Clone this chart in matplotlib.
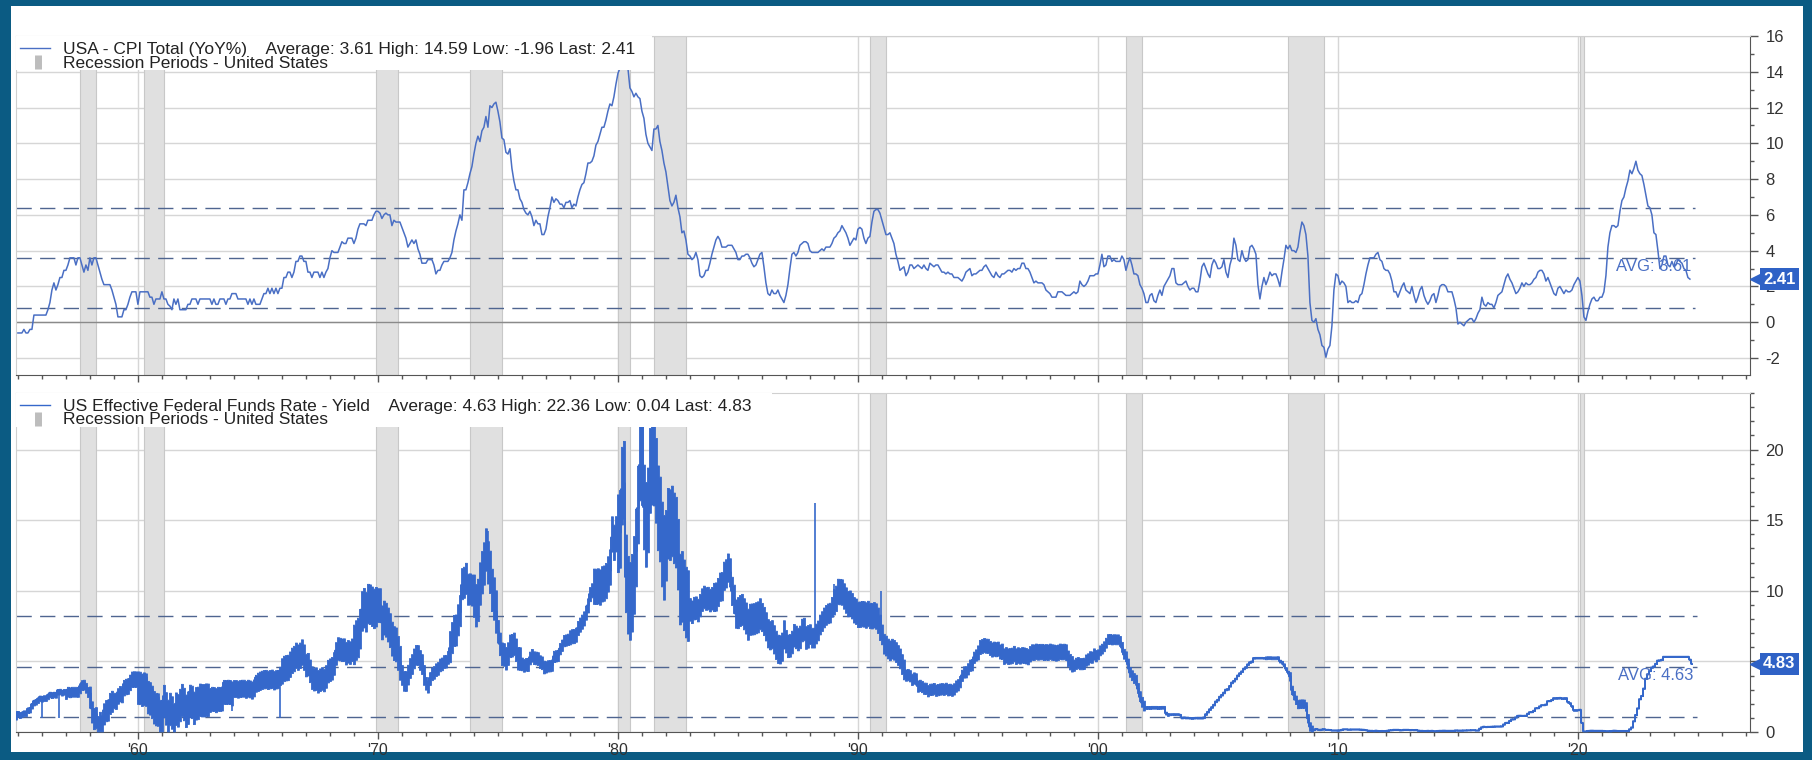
import numpy as np
import matplotlib.pyplot as plt
import matplotlib.transforms as mtransforms
from matplotlib.patches import Rectangle
from matplotlib.ticker import MultipleLocator, FixedLocator

plt.rcParams['font.family'] = ['Liberation Sans', 'DejaVu Sans']
plt.rcParams['axes.unicode_minus'] = False

# USA CPI total, YoY %, monthly from Jan 1955
cpi_start = 1955
cpi_yoy = [
    -0.6, -0.6, -0.6, -0.4, -0.6, -0.6, -0.4, -0.4, 0.4, 0.4, 0.4, 0.4,   # 1955
    0.4, 0.4, 0.4, 0.7, 1.1, 1.8, 2.2, 1.8, 2.1, 2.5, 2.5, 2.9,          # 1956
    2.9, 3.2, 3.6, 3.6, 3.6, 3.2, 3.6, 3.6, 3.2, 2.8, 3.2, 2.9,          # 1957
    3.6, 3.2, 3.6, 3.6, 3.2, 2.8, 2.4, 2.1, 2.1, 2.1, 2.1, 1.8,          # 1958
    1.4, 1.0, 0.3, 0.3, 0.3, 0.7, 0.7, 1.0, 1.4, 1.7, 1.7, 1.7,          # 1959
    1.0, 1.7, 1.7, 1.7, 1.7, 1.7, 1.4, 1.4, 1.0, 1.3, 1.3, 1.3,          # 1960
    1.7, 1.3, 1.3, 1.0, 0.9, 0.7, 1.3, 1.0, 1.3, 0.7, 0.7, 0.7,          # 1961
    0.7, 1.0, 1.0, 1.3, 1.3, 1.3, 1.0, 1.3, 1.3, 1.3, 1.3, 1.3,          # 1962
    1.3, 1.0, 1.3, 1.0, 1.0, 1.3, 1.3, 1.3, 1.0, 1.3, 1.3, 1.6,          # 1963
    1.6, 1.6, 1.3, 1.3, 1.3, 1.3, 1.3, 1.0, 1.3, 1.0, 1.3, 1.0,          # 1964
    1.0, 1.0, 1.3, 1.6, 1.6, 1.9, 1.6, 1.9, 1.6, 1.9, 1.6, 1.9,          # 1965
    1.9, 2.5, 2.5, 2.8, 2.8, 2.5, 2.8, 3.4, 3.4, 3.7, 3.7, 3.4,          # 1966
    3.4, 2.8, 2.8, 2.5, 2.8, 2.8, 2.8, 2.5, 2.8, 2.5, 2.8, 3.0,          # 1967
    3.6, 4.0, 3.9, 3.9, 3.9, 4.2, 4.5, 4.4, 4.4, 4.7, 4.7, 4.7,          # 1968
    4.4, 4.7, 5.2, 5.5, 5.5, 5.5, 5.4, 5.7, 5.7, 5.7, 6.0, 6.2,          # 1969
    6.2, 6.1, 5.8, 6.0, 6.1, 6.0, 6.0, 5.4, 5.7, 5.6, 5.6, 5.6,          # 1970
    5.3, 5.0, 4.7, 4.2, 4.4, 4.6, 4.4, 4.6, 4.1, 3.8, 3.3, 3.3,          # 1971
    3.3, 3.5, 3.5, 3.5, 3.2, 2.7, 2.9, 2.9, 3.2, 3.4, 3.4, 3.4,          # 1972
    3.6, 3.9, 4.6, 5.1, 5.5, 6.0, 5.7, 7.4, 7.4, 7.8, 8.3, 8.7,          # 1973
    9.4, 10.0, 10.4, 10.1, 10.7, 10.9, 11.5, 10.9, 12.1, 12.0, 12.2, 12.3,  # 1974
    11.8, 11.2, 10.3, 10.2, 9.5, 9.4, 9.7, 8.6, 7.9, 7.4, 7.4, 6.9,      # 1975
    6.7, 6.3, 6.1, 6.0, 6.2, 5.9, 5.4, 5.7, 5.5, 5.5, 4.9, 4.9,          # 1976
    5.2, 5.9, 6.4, 7.0, 6.7, 6.9, 6.8, 6.6, 6.6, 6.4, 6.7, 6.7,          # 1977
    6.8, 6.4, 6.6, 6.5, 7.0, 7.4, 7.7, 7.8, 8.3, 8.9, 8.9, 9.0,          # 1978
    9.3, 9.9, 10.1, 10.5, 10.9, 10.9, 11.3, 11.8, 12.2, 12.1, 12.6, 13.3,  # 1979
    13.9, 14.2, 14.59, 14.5, 14.3, 14.2, 13.1, 12.9, 12.6, 12.8, 12.6, 12.5,  # 1980
    11.8, 11.4, 10.5, 10.0, 9.8, 9.6, 10.8, 10.8, 11.0, 10.1, 9.6, 8.9,  # 1981
    8.4, 7.6, 6.8, 6.5, 6.7, 7.1, 6.4, 5.9, 5.0, 5.1, 4.6, 3.8,          # 1982
    3.7, 3.5, 3.6, 3.9, 3.5, 2.6, 2.5, 2.6, 2.9, 2.9, 3.3, 3.8,          # 1983
    4.2, 4.6, 4.8, 4.6, 4.2, 4.2, 4.2, 4.3, 4.3, 4.3, 4.1, 3.9,          # 1984
    3.5, 3.5, 3.7, 3.7, 3.8, 3.8, 3.6, 3.3, 3.1, 3.2, 3.5, 3.8,          # 1985
    3.9, 3.1, 2.2, 1.6, 1.5, 1.8, 1.6, 1.6, 1.8, 1.5, 1.3, 1.1,          # 1986
    1.5, 2.1, 3.0, 3.8, 3.9, 3.7, 3.9, 4.3, 4.4, 4.5, 4.5, 4.4,          # 1987
    4.0, 3.9, 3.9, 3.9, 3.9, 4.0, 4.1, 4.0, 4.2, 4.2, 4.2, 4.4,          # 1988
    4.7, 4.8, 5.0, 5.1, 5.4, 5.2, 5.0, 4.7, 4.3, 4.5, 4.7, 4.6,          # 1989
    5.2, 5.3, 5.2, 4.7, 4.4, 4.7, 4.8, 5.6, 6.2, 6.3, 6.3, 6.1,          # 1990
    5.7, 5.3, 4.9, 4.9, 5.0, 4.7, 4.4, 3.8, 3.4, 2.9, 3.0, 3.1,          # 1991
    2.6, 2.8, 3.2, 3.2, 3.0, 3.1, 3.2, 3.1, 3.0, 3.2, 3.0, 2.9,          # 1992
    3.3, 3.2, 3.1, 3.2, 3.2, 3.0, 2.8, 2.8, 2.7, 2.8, 2.7, 2.7,          # 1993
    2.5, 2.5, 2.5, 2.4, 2.3, 2.5, 2.8, 2.9, 3.0, 2.6, 2.7, 2.7,          # 1994
    2.8, 2.9, 2.9, 3.1, 3.2, 3.0, 2.8, 2.6, 2.5, 2.8, 2.6, 2.5,          # 1995
    2.7, 2.7, 2.8, 2.9, 2.9, 2.8, 3.0, 2.9, 3.0, 3.0, 3.3, 3.3,          # 1996
    3.0, 3.0, 2.8, 2.5, 2.2, 2.3, 2.2, 2.2, 2.2, 2.1, 1.8, 1.7,          # 1997
    1.6, 1.4, 1.4, 1.4, 1.7, 1.7, 1.7, 1.6, 1.5, 1.5, 1.5, 1.6,          # 1998
    1.7, 1.6, 1.7, 2.3, 2.1, 2.0, 2.1, 2.3, 2.6, 2.6, 2.6, 2.7,          # 1999
    2.7, 3.2, 3.8, 3.1, 3.2, 3.7, 3.7, 3.4, 3.5, 3.4, 3.4, 3.4,          # 2000
    3.7, 3.5, 2.9, 3.3, 3.6, 3.2, 2.7, 2.7, 2.6, 2.1, 1.9, 1.6,          # 2001
    1.1, 1.1, 1.5, 1.6, 1.2, 1.1, 1.5, 1.8, 1.5, 2.0, 2.2, 2.4,          # 2002
    2.6, 3.0, 3.0, 2.2, 2.1, 2.1, 2.1, 2.2, 2.3, 2.0, 1.8, 1.9,          # 2003
    1.9, 1.7, 1.7, 2.3, 3.1, 3.3, 3.0, 2.7, 2.5, 3.2, 3.5, 3.3,          # 2004
    3.0, 3.0, 3.1, 3.5, 2.8, 2.5, 3.2, 3.6, 4.7, 4.3, 3.5, 3.4,          # 2005
    4.0, 3.6, 3.4, 3.5, 4.2, 4.3, 4.1, 3.8, 2.1, 1.3, 2.0, 2.5,          # 2006
    2.1, 2.4, 2.8, 2.6, 2.7, 2.7, 2.4, 2.0, 2.8, 3.5, 4.3, 4.1,          # 2007
    4.3, 4.0, 4.0, 3.9, 4.2, 5.0, 5.6, 5.4, 4.9, 3.7, 1.1, 0.1,          # 2008
    0.0, 0.2, -0.4, -0.7, -1.3, -1.4, -1.96, -1.5, -1.3, -0.2, 1.8, 2.7,  # 2009
    2.6, 2.1, 2.3, 2.2, 2.0, 1.1, 1.2, 1.1, 1.1, 1.2, 1.1, 1.5,          # 2010
    1.6, 2.1, 2.7, 3.2, 3.6, 3.6, 3.6, 3.8, 3.9, 3.5, 3.4, 3.0,          # 2011
    2.9, 2.9, 2.7, 2.3, 1.7, 1.7, 1.4, 1.7, 2.0, 2.2, 1.8, 1.7,          # 2012
    1.6, 2.0, 1.5, 1.1, 1.4, 1.8, 2.0, 1.5, 1.2, 1.0, 1.2, 1.5,          # 2013
    1.6, 1.1, 1.5, 2.0, 2.1, 2.1, 2.0, 1.7, 1.7, 1.7, 1.3, 0.8,          # 2014
    -0.1, 0.0, -0.1, -0.2, 0.0, 0.1, 0.2, 0.2, 0.0, 0.2, 0.5, 0.7,       # 2015
    1.4, 1.0, 0.9, 1.1, 1.0, 1.0, 0.8, 1.1, 1.5, 1.6, 1.7, 2.1,          # 2016
    2.5, 2.7, 2.4, 2.2, 1.9, 1.6, 1.7, 1.9, 2.2, 2.0, 2.2, 2.1,          # 2017
    2.1, 2.2, 2.4, 2.5, 2.8, 2.9, 2.9, 2.7, 2.3, 2.5, 2.2, 1.9,          # 2018
    1.6, 1.5, 1.9, 2.0, 1.8, 1.6, 1.8, 1.7, 1.7, 1.8, 2.1, 2.3,          # 2019
    2.5, 2.3, 1.5, 0.3, 0.1, 0.6, 1.0, 1.3, 1.4, 1.2, 1.2, 1.4,          # 2020
    1.4, 1.7, 2.6, 4.2, 5.0, 5.4, 5.4, 5.3, 5.4, 6.2, 6.8, 7.0,          # 2021
    7.5, 7.9, 8.5, 8.3, 8.6, 9.0, 8.5, 8.3, 8.2, 7.7, 7.1, 6.5,          # 2022
    6.4, 6.0, 5.0, 4.9, 4.0, 3.0, 3.2, 3.7, 3.7, 3.2, 3.1, 3.4,          # 2023
    3.1, 3.2, 3.5, 3.4, 3.3, 3.0, 2.9, 2.5, 2.41,                        # 2024
]

# US effective federal funds rate, monthly from Jul 1954
ff_start = 1954.5
fed_funds = [
    0.80, 1.22, 1.07, 0.85, 0.83, 1.28,                                   # 1954 H2
    1.39, 1.29, 1.35, 1.43, 1.43, 1.64, 1.68, 1.96, 2.18, 2.24, 2.35, 2.48,  # 1955
    2.45, 2.50, 2.50, 2.62, 2.75, 2.71, 2.75, 2.73, 2.95, 2.96, 2.88, 2.94,  # 1956
    2.84, 3.00, 2.96, 3.00, 3.00, 3.00, 2.99, 3.24, 3.47, 3.50, 3.28, 2.98,  # 1957
    2.72, 1.67, 1.20, 1.26, 0.63, 0.93, 0.68, 1.53, 1.76, 1.80, 2.27, 2.42,  # 1958
    2.48, 2.43, 2.80, 2.96, 2.90, 3.39, 3.47, 3.50, 3.76, 3.98, 4.00, 3.99,  # 1959
    3.99, 3.97, 3.84, 3.92, 3.85, 3.32, 3.23, 2.98, 2.60, 2.47, 2.44, 1.98,  # 1960
    1.45, 2.54, 2.02, 1.49, 1.98, 1.73, 1.17, 2.00, 1.88, 2.26, 2.61, 2.33,  # 1961
    2.15, 2.37, 2.85, 2.78, 2.36, 2.68, 2.71, 2.93, 2.90, 2.90, 2.94, 2.93,  # 1962
    2.92, 3.00, 2.98, 2.90, 3.00, 2.99, 3.02, 3.49, 3.48, 3.50, 3.48, 3.38,  # 1963
    3.48, 3.48, 3.43, 3.47, 3.50, 3.50, 3.42, 3.50, 3.45, 3.36, 3.52, 3.85,  # 1964
    3.90, 3.98, 4.04, 4.09, 4.10, 4.04, 4.09, 4.12, 4.01, 4.08, 4.10, 4.32,  # 1965
    4.42, 4.60, 4.65, 4.67, 4.90, 5.17, 5.30, 5.53, 5.40, 5.53, 5.76, 5.40,  # 1966
    4.94, 5.00, 4.53, 4.05, 3.94, 3.98, 3.79, 3.90, 3.99, 3.88, 4.13, 4.51,  # 1967
    4.61, 4.71, 5.05, 5.76, 6.11, 6.07, 6.02, 6.03, 5.78, 5.91, 5.82, 6.02,  # 1968
    6.30, 6.61, 6.79, 7.41, 8.67, 8.90, 8.61, 9.19, 9.15, 9.00, 8.85, 8.97,  # 1969
    8.98, 8.98, 7.76, 8.10, 7.95, 7.61, 7.21, 6.61, 6.29, 6.20, 5.60, 4.90,  # 1970
    4.14, 3.72, 3.71, 4.16, 4.63, 4.91, 5.31, 5.56, 5.55, 5.20, 4.91, 4.14,  # 1971
    3.50, 3.29, 3.83, 4.17, 4.27, 4.46, 4.55, 4.80, 4.87, 5.04, 5.06, 5.33,  # 1972
    5.94, 6.58, 7.09, 7.12, 7.84, 8.49, 10.40, 10.50, 10.78, 10.01, 10.03, 9.95,  # 1973
    9.65, 8.97, 9.35, 10.51, 11.31, 11.93, 12.92, 12.01, 11.34, 10.06, 9.45, 8.53,  # 1974
    7.13, 6.24, 5.54, 5.49, 5.22, 5.55, 6.10, 6.14, 6.24, 5.82, 5.22, 5.20,  # 1975
    4.87, 4.77, 4.84, 4.82, 5.29, 5.48, 5.31, 5.29, 5.25, 5.03, 4.95, 4.65,  # 1976
    4.61, 4.68, 4.69, 4.73, 5.35, 5.39, 5.42, 5.90, 6.14, 6.47, 6.51, 6.56,  # 1977
    6.70, 6.78, 6.79, 6.89, 7.36, 7.60, 7.81, 8.04, 8.45, 8.96, 9.76, 10.03,  # 1978
    10.07, 10.06, 10.09, 10.01, 10.24, 10.29, 10.47, 10.94, 11.43, 13.77, 13.18, 13.78,  # 1979
    13.82, 14.13, 17.19, 17.61, 10.98, 9.47, 9.03, 9.61, 10.87, 12.81, 15.85, 18.90,  # 1980
    19.08, 15.93, 14.70, 15.72, 18.52, 19.10, 19.04, 17.82, 15.87, 15.08, 13.31, 12.37,  # 1981
    13.22, 14.78, 14.68, 14.94, 14.45, 14.15, 12.59, 10.12, 10.31, 9.71, 9.20, 8.95,  # 1982
    8.68, 8.51, 8.77, 8.80, 8.63, 8.98, 9.37, 9.56, 9.45, 9.48, 9.34, 9.47,  # 1983
    9.56, 9.59, 9.91, 10.29, 10.32, 11.06, 11.23, 11.64, 11.30, 9.99, 9.43, 8.38,  # 1984
    8.35, 8.50, 8.58, 8.27, 7.97, 7.53, 7.88, 7.90, 7.92, 7.99, 8.05, 8.27,  # 1985
    8.14, 7.86, 7.48, 6.99, 6.85, 6.92, 6.56, 6.17, 5.89, 5.85, 6.04, 6.91,  # 1986
    6.43, 6.10, 6.13, 6.37, 6.85, 6.73, 6.58, 6.73, 7.22, 7.29, 6.69, 6.77,  # 1987
    6.83, 6.58, 6.58, 6.87, 7.09, 7.51, 7.75, 8.01, 8.19, 8.30, 8.35, 8.76,  # 1988
    9.12, 9.36, 9.85, 9.84, 9.81, 9.53, 9.24, 8.99, 9.02, 8.84, 8.55, 8.45,  # 1989
    8.23, 8.24, 8.28, 8.26, 8.18, 8.29, 8.15, 8.13, 8.20, 8.11, 7.81, 7.31,  # 1990
    6.91, 6.25, 6.12, 5.91, 5.78, 5.90, 5.82, 5.66, 5.45, 5.21, 4.81, 4.43,  # 1991
    4.03, 4.06, 3.98, 3.73, 3.82, 3.76, 3.25, 3.30, 3.22, 3.10, 3.09, 2.92,  # 1992
    3.02, 3.03, 3.07, 2.96, 3.00, 3.04, 3.06, 3.03, 3.09, 2.99, 3.02, 2.96,  # 1993
    3.05, 3.25, 3.34, 3.56, 4.01, 4.25, 4.26, 4.47, 4.73, 4.76, 5.29, 5.45,  # 1994
    5.53, 5.92, 5.98, 6.05, 6.01, 6.00, 5.85, 5.74, 5.80, 5.76, 5.80, 5.60,  # 1995
    5.56, 5.22, 5.31, 5.22, 5.24, 5.27, 5.40, 5.22, 5.30, 5.24, 5.31, 5.29,  # 1996
    5.25, 5.19, 5.39, 5.51, 5.50, 5.56, 5.52, 5.54, 5.54, 5.50, 5.52, 5.50,  # 1997
    5.56, 5.51, 5.49, 5.45, 5.49, 5.56, 5.54, 5.55, 5.51, 5.07, 4.83, 4.68,  # 1998
    4.63, 4.76, 4.81, 4.74, 4.74, 4.76, 4.99, 5.07, 5.22, 5.20, 5.42, 5.30,  # 1999
    5.45, 5.73, 5.85, 6.02, 6.27, 6.53, 6.54, 6.50, 6.52, 6.51, 6.51, 6.40,  # 2000
    5.98, 5.49, 5.31, 4.80, 4.21, 3.97, 3.77, 3.65, 3.07, 2.49, 2.09, 1.82,  # 2001
    1.73, 1.74, 1.73, 1.75, 1.75, 1.75, 1.73, 1.74, 1.75, 1.75, 1.34, 1.24,  # 2002
    1.24, 1.26, 1.25, 1.26, 1.26, 1.22, 1.01, 1.03, 1.01, 1.01, 1.00, 0.98,  # 2003
    1.00, 1.01, 1.00, 1.00, 1.00, 1.03, 1.26, 1.43, 1.61, 1.76, 1.93, 2.16,  # 2004
    2.28, 2.50, 2.63, 2.79, 3.00, 3.04, 3.26, 3.50, 3.62, 3.78, 4.00, 4.16,  # 2005
    4.29, 4.49, 4.59, 4.79, 4.94, 4.99, 5.24, 5.25, 5.25, 5.25, 5.25, 5.24,  # 2006
    5.25, 5.26, 5.26, 5.25, 5.25, 5.25, 5.26, 5.02, 4.94, 4.76, 4.49, 4.24,  # 2007
    3.94, 2.98, 2.61, 2.28, 1.98, 2.00, 2.01, 2.00, 1.81, 0.97, 0.39, 0.16,  # 2008
    0.15, 0.22, 0.18, 0.15, 0.18, 0.21, 0.16, 0.16, 0.15, 0.12, 0.12, 0.12,  # 2009
    0.11, 0.13, 0.16, 0.20, 0.20, 0.18, 0.18, 0.19, 0.19, 0.19, 0.19, 0.18,  # 2010
    0.17, 0.16, 0.14, 0.10, 0.09, 0.09, 0.07, 0.10, 0.08, 0.07, 0.08, 0.07,  # 2011
    0.08, 0.10, 0.13, 0.14, 0.16, 0.16, 0.16, 0.13, 0.14, 0.16, 0.16, 0.16,  # 2012
    0.14, 0.15, 0.14, 0.15, 0.11, 0.09, 0.09, 0.08, 0.08, 0.09, 0.08, 0.09,  # 2013
    0.07, 0.07, 0.08, 0.09, 0.09, 0.10, 0.09, 0.09, 0.09, 0.09, 0.09, 0.12,  # 2014
    0.11, 0.11, 0.11, 0.12, 0.12, 0.13, 0.13, 0.14, 0.14, 0.12, 0.12, 0.24,  # 2015
    0.34, 0.38, 0.36, 0.37, 0.37, 0.38, 0.39, 0.40, 0.40, 0.40, 0.41, 0.54,  # 2016
    0.65, 0.66, 0.79, 0.90, 0.91, 1.04, 1.15, 1.16, 1.15, 1.15, 1.16, 1.30,  # 2017
    1.41, 1.42, 1.51, 1.69, 1.70, 1.82, 1.91, 1.91, 1.95, 2.19, 2.20, 2.27,  # 2018
    2.40, 2.40, 2.41, 2.42, 2.39, 2.38, 2.40, 2.13, 2.04, 1.83, 1.55, 1.55,  # 2019
    1.55, 1.58, 0.65, 0.05, 0.05, 0.08, 0.09, 0.10, 0.09, 0.09, 0.09, 0.09,  # 2020
    0.09, 0.08, 0.07, 0.07, 0.06, 0.08, 0.10, 0.09, 0.08, 0.08, 0.08, 0.08,  # 2021
    0.08, 0.08, 0.20, 0.33, 0.77, 1.21, 1.68, 2.33, 2.56, 3.08, 3.78, 4.10,  # 2022
    4.33, 4.57, 4.65, 4.83, 5.06, 5.08, 5.12, 5.33, 5.33, 5.33, 5.33, 5.33,  # 2023
    5.33, 5.33, 5.33, 5.33, 5.33, 5.33, 5.33, 5.33, 5.13, 4.83,              # 2024
]

# daily range around the monthly level, per calendar year 1954..2024 (below, above)
ff_years = list(range(1954, 2025))
ff_range_lo = [
    0.4, 0.3, 0.3, 0.5, 1.0, 0.8, 2.0, 1.5, 1.8, 1.5,   # 1954-63
    1.0, 1.0, 1.0, 1.0, 1.0, 1.5, 1.2, 0.8, 0.5, 1.0,   # 1964-73
    1.5, 0.8, 0.5, 0.4, 0.5, 1.0, 2.5, 3.0, 2.5, 0.8,   # 1974-83
    1.0, 1.0, 1.0, 0.8, 0.6, 0.8, 0.8, 0.7, 0.4, 0.4,   # 1984-93
    0.4, 0.4, 0.4, 0.4, 0.4, 0.3, 0.3, 0.3, 0.1, 0.05,  # 1994-03
    0.05, 0.05, 0.05, 0.1, 0.3, 0.02, 0.02, 0.02, 0.02, 0.02,  # 2004-13
    0.02, 0.02, 0.02, 0.02, 0.02, 0.05, 0.02, 0.02, 0.02, 0.02, 0.02,  # 2014-24
]
ff_range_hi = [
    0.2, 0.1, 0.1, 0.2, 0.5, 0.3, 0.3, 0.8, 0.5, 0.2,   # 1954-63
    0.2, 0.3, 0.8, 0.6, 0.6, 1.3, 1.2, 0.6, 0.4, 1.2,   # 1964-73
    1.5, 0.8, 0.4, 0.4, 0.5, 1.5, 3.0, 3.0, 2.5, 0.8,   # 1974-83
    1.0, 1.2, 1.0, 0.8, 0.8, 1.0, 1.0, 0.7, 0.4, 0.4,   # 1984-93
    0.4, 0.6, 0.7, 0.7, 0.7, 0.5, 0.4, 0.4, 0.1, 0.05,  # 1994-03
    0.05, 0.05, 0.05, 0.1, 0.3, 0.02, 0.02, 0.02, 0.02, 0.02,  # 2004-13
    0.02, 0.02, 0.02, 0.02, 0.02, 0.05, 0.02, 0.02, 0.02, 0.02, 0.02,  # 2014-24
]
# single-day spikes (year, rate)
ff_spike_dates = [1956.0, 1956.7, 1963.9, 1965.9, 1974.6, 1980.25, 1980.95,
                  1981.05, 1981.5, 1984.6, 1988.2, 1989.0, 1990.95]
ff_spike_vals = [1.0, 1.0, 1.5, 1.0, 14.2, 20.0, 21.0, 22.0, 22.36, 12.3, 16.2, 10.5, 10.0]

# US recessions (start, end)
rec_start = [1957.58, 1960.25, 1969.92, 1973.83, 1980.0, 1981.5, 1990.5, 2001.17, 2007.92, 2020.08]
rec_end = [1958.25, 1961.08, 1970.83, 1975.17, 1980.5, 1982.83, 1991.17, 2001.83, 2009.42, 2020.25]

cpi_bands = [0.81, 3.61, 6.41]
ff_bands = [1.03, 4.63, 8.23]
cpi_label = 'USA - CPI Total (YoY%)    Average: 3.61 High: 14.59 Low: -1.96 Last: 2.41'
ff_label = 'US Effective Federal Funds Rate - Yield    Average: 4.63 High: 22.36 Low: 0.04 Last: 4.83'
rec_label = 'Recession Periods - United States'
decades = [1960, 1970, 1980, 1990, 2000, 2010, 2020]
decade_labels = ["'60", "'70", "'80", "'90", "'00", "'10", "'20"]

W, H = 1812, 760
AX_W, AX_H = 1734, 339
fig = plt.figure(figsize=(W / 100, H / 100), dpi=100, facecolor='#0b5b83')
fig.patches.append(Rectangle((11 / W, 1 - 752 / H), 1792 / W, 746 / H,
                             transform=fig.transFigure, facecolor='white', zorder=-5))

ax1 = fig.add_axes([16 / W, 1 - 375 / H, AX_W / W, AX_H / H])
ax2 = fig.add_axes([16 / W, 1 - 732 / H, AX_W / W, AX_H / H])

x0, x1 = 1954.92, 2027.17
line_col = '#4a6fc4'
ff_col = '#3568cb'
dash_col = '#4f6590'
tag_col = '#2f62c6'


def style_axis(ax, ylim, major, minor, show_labels):
    ax.set_xlim(x0, x1)
    ax.set_ylim(*ylim)
    ax.set_axisbelow(True)
    ax.yaxis.tick_right()
    ax.yaxis.set_major_locator(MultipleLocator(major))
    ax.yaxis.set_minor_locator(MultipleLocator(minor))
    ax.xaxis.set_major_locator(FixedLocator(decades))
    ax.xaxis.set_minor_locator(MultipleLocator(1))
    ax.grid(True, which='major', color='#d6d6d6', lw=1)
    ax.tick_params(axis='y', which='major', length=6, width=1, color='#555555',
                   labelsize=12, labelcolor='#333333', pad=5)
    ax.tick_params(axis='y', which='minor', length=3, width=1, color='#555555')
    ax.tick_params(axis='x', which='major', length=5, width=1, color='#555555',
                   labelsize=11.5, labelcolor='#333333', pad=3)
    ax.tick_params(axis='x', which='minor', length=3, width=1, color='#555555')
    if show_labels:
        ax.set_xticklabels(decade_labels)
    else:
        ax.set_xticklabels([])
    for s in ['left', 'top']:
        ax.spines[s].set_color('#d0d0d0')
    for s in ['right', 'bottom']:
        ax.spines[s].set_color('#555555')
    for s, e in zip(rec_start, rec_end):
        ax.axvspan(s, e, facecolor='#e0e0e0', edgecolor='#c8c8c8', lw=0.8, zorder=1)


def add_bands(ax, bands, end_x):
    ax.hlines(bands, x0, end_x, colors=dash_col, linestyles=(0, (11, 6)), lw=1, zorder=2)
    span = ax.get_ylim()[1] - ax.get_ylim()[0]
    ax.text(end_x - 0.15, bands[1] - 0.004 * span, f'AVG: {bands[1]:.2f}',
            ha='right', va='top', fontsize=12, color=line_col, zorder=6)


def value_tag(ax, v):
    tr = mtransforms.blended_transform_factory(ax.transAxes, ax.transData)
    ax.plot([1.004], [v], marker='<', markersize=10, color=tag_col, transform=tr,
            clip_on=False, zorder=10)
    ax.text(1.0075, v, f'{v:.2f}', transform=tr, ha='left', va='center', color='white',
            fontsize=12, fontweight='bold', zorder=11, clip_on=False,
            bbox=dict(boxstyle='square,pad=0.2', fc=tag_col, ec='none'))


def add_legend(ax, label, col, box_w):
    # legend block in pixel offsets from the axes' top-left corner
    def fx(px):
        return px / AX_W

    def fy(py):
        return 1 - py / AX_H

    tr = ax.transAxes
    ax.add_patch(Rectangle((0, fy(34)), fx(box_w), 34 / AX_H, transform=tr,
                           facecolor='white', edgecolor='none', zorder=7))
    ax.plot([fx(4), fx(34)], [fy(12), fy(12)], transform=tr, color=col, lw=1, zorder=8)
    ax.plot([fx(21.5)], [fy(25.5)], transform=tr, marker='|', markersize=10,
            markeredgewidth=5, color='#bdbdbd', zorder=8)
    ax.text(fx(47), fy(12), label, transform=tr, ha='left', va='center_baseline',
            fontsize=12.5, color='#222222', zorder=9)
    ax.text(fx(47), fy(25.5), rec_label, transform=tr, ha='left', va='center_baseline',
            fontsize=12.5, color='#222222', zorder=9)


# --- top: CPI
cpi = np.array(cpi_yoy)
cpi_x = cpi_start + np.arange(len(cpi)) / 12
style_axis(ax1, (-2.95, 16), 2, 1, False)
ax1.axhline(0, color='#8a8a8a', lw=1, zorder=1.5)
add_bands(ax1, cpi_bands, cpi_x[-1] + 0.2)
ax1.plot(cpi_x, cpi, color=line_col, lw=1.1, zorder=4)
value_tag(ax1, cpi[-1])
add_legend(ax1, cpi_label, line_col, 636)

# --- bottom: Fed funds
ff = np.array(fed_funds)
ff_x = ff_start + np.arange(len(ff)) / 12
idx = np.floor(ff_x).astype(int) - ff_years[0]
lo = np.maximum(ff - np.array(ff_range_lo)[idx], 0.04)
hi = ff + np.array(ff_range_hi)[idx]
style_axis(ax2, (0, 24), 5, 1, True)
add_bands(ax2, ff_bands, ff_x[-1] + 0.2)
ax2.fill_between(ff_x, lo, hi, step='mid', color=ff_col, lw=0.6, zorder=4)
ax2.plot(ff_x, ff, color=ff_col, lw=1.3, zorder=4, drawstyle='steps-mid')
base = np.interp(ff_spike_dates, ff_x, ff)
ax2.vlines(ff_spike_dates, base, ff_spike_vals, color=ff_col, lw=1.2, zorder=4)
value_tag(ax2, ff[-1])
add_legend(ax2, ff_label, ff_col, 756)

fig.savefig('out.png', dpi=100, facecolor=fig.get_facecolor())
